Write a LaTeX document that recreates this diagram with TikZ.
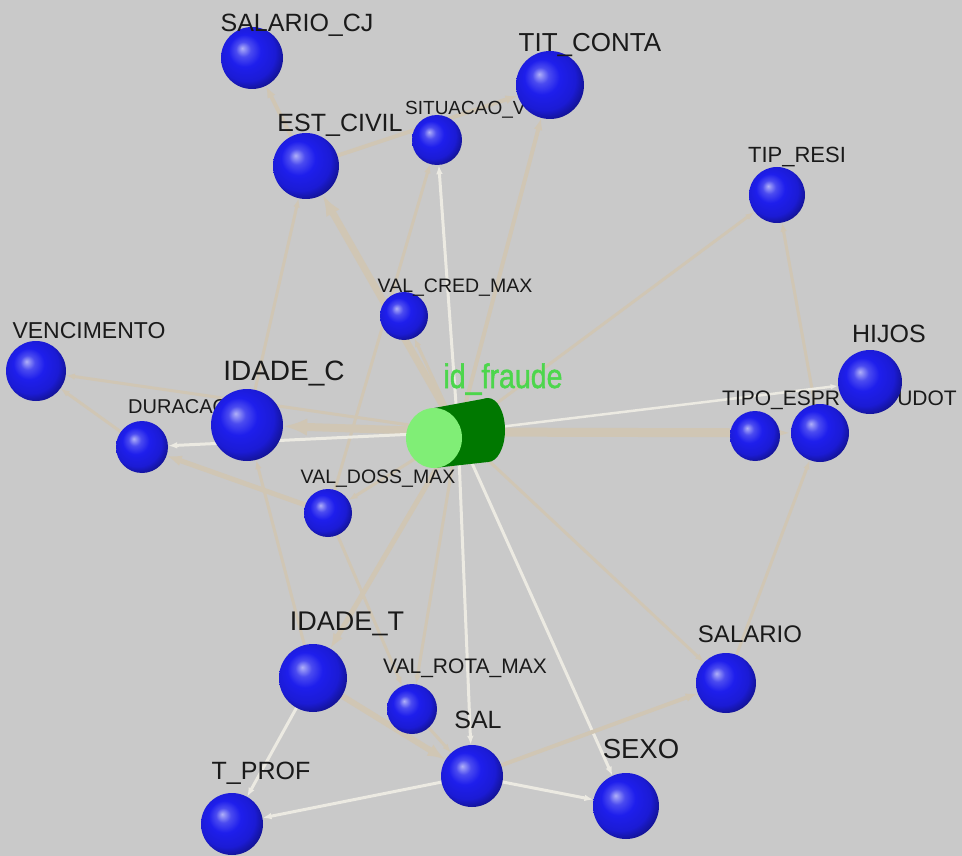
\documentclass[tikz,border=0pt]{standalone}
\usepackage{fontspec}
\setmainfont{Liberation Sans}
\newfontfamily\heavyfont[FakeBold=1.5]{Liberation Sans}
\usetikzlibrary{arrows.meta}
\definecolor{bgc}{RGB}{201,201,201}
\definecolor{sphb}{RGB}{30,30,236}
\definecolor{edg}{RGB}{208,198,180}
\definecolor{edw}{RGB}{236,234,226}
\definecolor{dkg}{RGB}{0,120,0}
\definecolor{ltg}{RGB}{128,238,118}
\definecolor{lbg}{RGB}{76,214,76}
\definecolor{txt}{RGB}{26,26,26}
\pgfdeclareradialshading{bsph}{\pgfpoint{-8bp}{8bp}}{color(0bp)=(sphb!35!white); color(6bp)=(sphb!80!white); color(13bp)=(sphb); color(23bp)=(sphb!90!black); color(30bp)=(sphb!60!black); color(50bp)=(sphb!60!black)}
\pgfdeclarelayer{bg}
\pgfdeclarelayer{cyl}
\pgfdeclarelayer{mid}
\pgfdeclarelayer{front}
\pgfsetlayers{bg,cyl,main,mid,front}
\tikzset{
  sph/.style={circle, inner sep=0pt, shade, shading=bsph, minimum size=#1},
  lab/.style={text=txt, inner sep=0pt, anchor=base, font=\fontsize{#1}{#1}\selectfont},
  labl/.style={text=txt, inner sep=0pt, anchor=base west, font=\fontsize{#1}{#1}\selectfont},
  labr/.style={text=txt, inner sep=0pt, anchor=base east, font=\fontsize{#1}{#1}\selectfont},
  e/.style={draw=edg, line width=#1, -{Latex[length=0pt 3, width=0pt 2.2]}},
  w/.style={draw=edw, line width=#1, -{Latex[length=0pt 3, width=0pt 2.2]}},
}
\begin{document}
\begin{tikzpicture}[x=1pt,y=-1pt]
\useasboundingbox (0,0) rectangle (962,856);
\begin{pgfonlayer}{bg}
\fill[bgc] (0,0) rectangle (962,856);
\end{pgfonlayer}
\begin{pgfonlayer}{cyl}
\fill[dkg] (434,408) -- (488,398) -- (488,462) -- (434,468) -- cycle;
\fill[dkg] (488,430) ellipse [x radius=17, y radius=32];
\fill[ltg] (434,438) ellipse [x radius=28, y radius=30];
\end{pgfonlayer}
\node[circle, inner sep=0pt, minimum size=40pt] (id) at (458,432) {};
% spheres
\node[sph=62pt] (salcj) at (252,58) {};
\node[sph=66pt] (est) at (306,166) {};
\node[sph=50pt] (sit) at (437,140) {};
\node[sph=56pt] (tip) at (777,195) {};
\node[sph=48pt] (vcred) at (404,316) {};
\node[sph=60pt] (venc) at (36,371) {};
\node[sph=52pt] (dur) at (142,447) {};
\node[sph=48pt] (vdoss) at (328,513) {};
\node[sph=50pt] (tipa) at (755,436) {};
\node[sph=58pt] (tipb) at (820,433) {};
\node[sph=60pt] (salario) at (726,683) {};
\node[sph=68pt] (idt) at (313,678) {};
\node[sph=50pt] (vrota) at (412,709) {};
\node[sph=62pt] (sal) at (472,776) {};
\node[sph=66pt] (sexo) at (626,806) {};
\node[sph=62pt] (tprof) at (232,824) {};
\begin{pgfonlayer}{front}
\node[sph=68pt] (tit) at (550,85) {};
\node[sph=72pt] (idc) at (247,425) {};
\node[sph=64pt] (hijos) at (870,382) {};
\end{pgfonlayer}
% edges
\begin{pgfonlayer}{bg}
\draw[e=4pt] (id) -- (tit);
\draw[w=3pt] (id) -- (sit);
\draw[e=3pt] (vdoss) -- (sit);
\draw[e=7pt] (id) -- (est);
\draw[e=3pt] (id) -- (vcred);
\draw[e=3pt] (idc) -- (est);
\draw[e=4pt] (est) -- (salcj);
\draw[e=4pt] (est) -- (tit);
\draw[e=3pt] (id) -- (tip);
\draw[e=3pt] (tipb) -- (tip);
\draw[e=3pt] (salario) -- (tipb);
\draw[e=9pt] (id) -- (tipb);
\draw[w=2.5pt] (id) -- (hijos);
\draw[e=3pt] (id) -- (venc);
\draw[e=8pt] (id) -- (idc);
\draw[w=3pt] (id) -- (dur);
\draw[e=3pt] (dur) -- (venc);
\draw[e=5pt] (vdoss) -- (dur);
\draw[e=3pt] (id) -- (vdoss);
\draw[e=3pt] (idt) -- (idc);
\draw[e=5pt] (id) -- (idt);
\draw[e=3pt] (vdoss) -- (vrota);
\draw[e=3pt] (id) -- (vrota);
\draw[w=3pt] (id) -- (sal);
\draw[w=3pt] (id) -- (sexo);
\draw[e=3pt] (id) -- (salario);
\draw[e=6pt] (idt) -- (sal);
\draw[e=3pt] (vrota) -- (sal);
\draw[e=4pt] (sal) -- (salario);
\draw[w=3pt] (sal) -- (sexo);
\draw[w=3pt] (sal) -- (tprof);
\draw[w=3pt] (idt) -- (tprof);
\end{pgfonlayer}
% labels partly hidden
\begin{pgfonlayer}{mid}
\node[labl=19pt] (lsit) at (405,115) {SITUACAO\_V};
\node[labl=20pt] (ldur) at (128,413) {DURACAO};
\node[labl=21pt] (ltipa) at (722,405) {TIPO\_ESPR};
\node[labr=21pt] (ltipb) at (957,405) {UDOT};
\end{pgfonlayer}
\begin{pgfonlayer}{front}
\node[lab=25pt] (lsalcj) at (297,32) {SALARIO\_CJ};
\node[lab=26pt] (ltit) at (590,52) {TIT\_CONTA};
\node[lab=25pt] (lest) at (340,132) {EST\_CIVIL};
\node[lab=22pt] (ltip) at (797,163) {TIP\_RESI};
\node[lab=19.5pt] (lvcred) at (455,292) {VAL\_CRED\_MAX};
\node[lab=23pt] (lvenc) at (89,338) {VENCIMENTO};
\node[lab=28pt] (lidc) at (284,380) {IDADE\_C};
\node[lab=34pt, text=lbg, xscale=0.84, font=\heavyfont\fontsize{34pt}{34pt}\selectfont] (lid) at (503,388) {id\_fraude};
\node[lab=19.5pt] (lvdoss) at (378,483) {VAL\_DOSS\_MAX};
\node[lab=25pt] (lhijos) at (889,342) {HIJOS};
\node[lab=24pt] (lsalario) at (750,642) {SALARIO};
\node[lab=27pt] (lidt) at (347,630) {IDADE\_T};
\node[lab=21pt] (lvrota) at (465,673) {VAL\_ROTA\_MAX};
\node[lab=25pt] (lsal) at (478,728) {SAL};
\node[lab=27.5pt] (lsexo) at (641,758) {SEXO};
\node[lab=25pt] (ltprof) at (261,779) {T\_PROF};
\end{pgfonlayer}
\end{tikzpicture}
\end{document}
